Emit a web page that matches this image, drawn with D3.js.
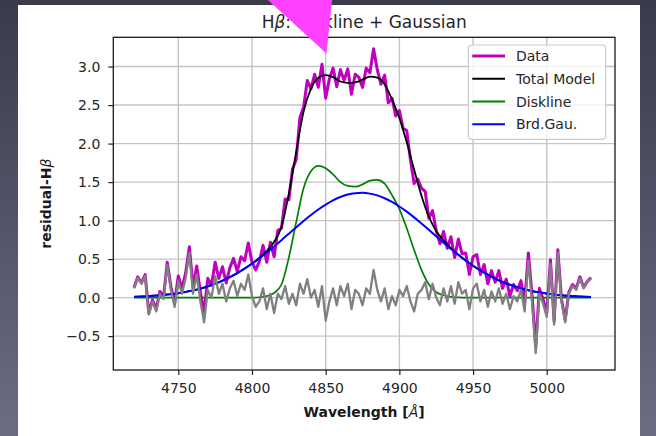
<!DOCTYPE html>
<html>
<head>
<meta charset="utf-8">
<script src="https://cdn.jsdelivr.net/npm/d3@7"></script>
<style>
  html, body { margin: 0; padding: 0; }
  body { width: 656px; height: 436px; overflow: hidden; }
  svg { display: block; font-family: "DejaVu Sans", sans-serif; }
</style>
</head>
<body>
<div id="chart"></div>
<script>
// model curves, sampled every 5 A from 4720 to 5030
var modelStart = 4720, modelStep = 5;
var gaussian = [0.010, 0.014, 0.019, 0.026, 0.034, 0.044, 0.058, 0.074, 0.094, 0.118,
  0.147, 0.181, 0.221, 0.266, 0.318, 0.377, 0.441, 0.510, 0.585, 0.665,
  0.746, 0.830, 0.913, 0.995, 1.072, 1.144, 1.208, 1.263, 1.306, 1.338,
  1.355, 1.360, 1.350, 1.327, 1.290, 1.242, 1.183, 1.116, 1.042, 0.962,
  0.880, 0.796, 0.713, 0.632, 0.555, 0.482, 0.414, 0.352, 0.297, 0.247,
  0.204, 0.167, 0.135, 0.108, 0.085, 0.067, 0.052, 0.040, 0.030, 0.023,
  0.017, 0.012, 0.009];
var diskline = [0, 0, 0, 0, 0, 0, 0, 0, 0, 0,
  0, 0, 0, 0, 0, 0, 0, 0.005, 0.02, 0.06,
  0.17, 0.52, 0.98, 1.42, 1.64, 1.71, 1.68, 1.60, 1.50, 1.45,
  1.44, 1.47, 1.52, 1.53, 1.48, 1.33, 1.15, 0.90, 0.62, 0.36,
  0.17, 0.07, 0.03, 0.01, 0.003, 0, 0, 0, 0, 0,
  0, 0, 0, 0, 0, 0, 0, 0, 0, 0,
  0, 0, 0];
var totalModel = [0.010, 0.014, 0.019, 0.026, 0.034, 0.044, 0.058, 0.074, 0.094, 0.118,
  0.147, 0.181, 0.221, 0.266, 0.318, 0.377, 0.441, 0.515, 0.605, 0.725,
  0.916, 1.350, 1.893, 2.415, 2.712, 2.854, 2.888, 2.863, 2.806, 2.788,
  2.795, 2.830, 2.870, 2.857, 2.770, 2.572, 2.333, 2.016, 1.662, 1.322,
  1.050, 0.866, 0.743, 0.642, 0.558, 0.482, 0.414, 0.352, 0.297, 0.247,
  0.204, 0.167, 0.135, 0.108, 0.085, 0.067, 0.052, 0.040, 0.030, 0.023,
  0.017, 0.012, 0.009];

// observed spectrum and residual, sampled every 2.5 A from 4720 to 5030
var specStart = 4720, specStep = 2.5;
var observed = [0.13, 0.27, 0.19, 0.30, -0.20, -0.03, -0.15, 0.08, 0.01, 0.46,
  0.14, -0.07, 0.28, 0.12, 0.32, 0.66, 0.14, 0.41, 0.07, -0.19,
  0.25, 0.16, 0.46, 0.25, 0.40, 0.19, 0.39, 0.51, 0.34, 0.53,
  0.48, 0.71, 0.46, 0.36, 0.47, 0.68, 0.46, 0.72, 0.53, 0.87,
  0.90, 1.28, 1.27, 1.67, 1.79, 2.34, 2.47, 2.82, 2.71, 2.90,
  2.73, 3.03, 2.59, 2.84, 2.98, 2.74, 2.96, 2.82, 2.97, 2.64,
  2.90, 2.86, 2.73, 2.98, 2.92, 3.23, 2.96, 2.77, 2.89, 2.53,
  2.59, 2.36, 2.43, 2.20, 2.17, 1.79, 1.48, 1.54, 1.42, 1.38,
  1.03, 1.13, 0.87, 0.70, 0.86, 0.64, 0.79, 0.52, 0.76, 0.57,
  0.58, 0.30, 0.53, 0.56, 0.30, 0.43, 0.18, 0.35, 0.20, 0.35,
  0.12, 0.24, 0.02, 0.17, 0.09, 0.22, -0.07, 0.58, 0.04, -0.64,
  0.12, -0.02, -0.20, 0.49, -0.31, 0.62, -0.02, -0.29, 0.07, 0.17,
  0.12, 0.27, 0.13, 0.21, 0.26];
var residual = [0.12, 0.26, 0.18, 0.28, -0.22, -0.05, -0.18, 0.05, -0.02, 0.42,
  0.10, -0.12, 0.22, 0.05, 0.25, 0.58, 0.05, 0.30, -0.05, -0.32,
  0.10, 0.00, 0.28, 0.05, 0.18, -0.05, 0.12, 0.22, 0.02, 0.18,
  0.10, 0.30, 0.02, -0.12, -0.05, 0.12, -0.15, 0.05, -0.20, 0.05,
  -0.02, 0.15, -0.08, 0.05, -0.10, 0.18, 0.05, 0.24, 0.00, 0.10,
  -0.12, 0.15, -0.30, -0.05, 0.12, -0.10, 0.15, 0.02, 0.18, -0.15,
  0.10, 0.05, -0.10, 0.12, 0.05, 0.36, 0.10, -0.05, 0.12, -0.15,
  0.02, -0.10, 0.10, 0.02, 0.15, -0.05, -0.18, 0.05, 0.10, 0.20,
  -0.02, 0.18, 0.00, -0.10, 0.12, -0.05, 0.15, -0.08, 0.20, 0.05,
  0.10, -0.15, 0.12, 0.18, -0.05, 0.10, -0.12, 0.08, -0.05, 0.12,
  -0.08, 0.05, -0.15, 0.02, -0.05, 0.10, -0.18, 0.48, -0.05, -0.72,
  0.05, -0.08, -0.25, 0.44, -0.35, 0.58, -0.05, -0.32, 0.05, 0.15,
  0.10, 0.25, 0.12, 0.20, 0.25];

var xTicks = [4750, 4800, 4850, 4900, 4950, 5000];
var yTicks = [-0.5, 0.0, 0.5, 1.0, 1.5, 2.0, 2.5, 3.0];
var legendLabels = ['Data', 'Total Model', 'Diskline', 'Brd.Gau.'];
var legendColors = ['#bf00bf', '#000000', '#008000', '#0000ff'];

var W = 656, H = 436;
var plotLeft = 113.3, plotRight = 615, plotTop = 37.3, plotBottom = 370;

var svg = d3.select('#chart').append('svg')
  .attr('width', W)
  .attr('height', H);

var defs = svg.append('defs');
var grad = defs.append('linearGradient')
  .attr('id', 'bg').attr('x1', 0).attr('y1', 0).attr('x2', 0).attr('y2', 1);
grad.append('stop').attr('offset', '0%').attr('stop-color', '#393a4a');
grad.append('stop').attr('offset', '100%').attr('stop-color', '#6c6d83');
defs.append('clipPath').attr('id', 'clip')
  .append('rect').attr('x', plotLeft).attr('y', plotTop)
  .attr('width', plotRight - plotLeft).attr('height', plotBottom - plotTop);

svg.append('rect').attr('width', W).attr('height', H).attr('fill', 'url(#bg)');
svg.append('rect').attr('x', 18).attr('y', 5).attr('width', 622).attr('height', H - 5)
  .attr('fill', '#ffffff');

var x = d3.scaleLinear().domain([4705.9, 5046.3]).range([plotLeft, plotRight]);
var y = d3.scaleLinear().domain([-0.94, 3.38]).range([plotBottom, plotTop]);

// grid
var grid = svg.append('g');
grid.selectAll('.vg').data(xTicks).enter().append('line')
  .attr('x1', function(d) { return x(d); }).attr('x2', function(d) { return x(d); })
  .attr('y1', plotTop).attr('y2', plotBottom)
  .attr('stroke', '#c4c4c4').attr('stroke-width', 1.4);
grid.selectAll('.hg').data(yTicks).enter().append('line')
  .attr('y1', function(d) { return y(d); }).attr('y2', function(d) { return y(d); })
  .attr('x1', plotLeft).attr('x2', plotRight)
  .attr('stroke', '#c4c4c4').attr('stroke-width', 1.4);

var modelPts = function(arr) {
  return arr.map(function(v, i) { return [modelStart + i * modelStep, v]; });
};
var specPts = function(arr) {
  return arr.map(function(v, i) { return [specStart + i * specStep, v]; });
};

var smooth = d3.line()
  .x(function(d) { return x(d[0]); })
  .y(function(d) { return y(d[1]); })
  .curve(d3.curveMonotoneX);
var jagged = d3.line()
  .x(function(d) { return x(d[0]); })
  .y(function(d) { return y(d[1]); });

var plot = svg.append('g').attr('clip-path', 'url(#clip)');

plot.append('path').datum(specPts(observed))
  .attr('d', jagged).attr('fill', 'none')
  .attr('stroke', '#bf00bf').attr('stroke-width', 3).attr('stroke-linejoin', 'round');
plot.append('path').datum(modelPts(totalModel))
  .attr('d', smooth).attr('fill', 'none')
  .attr('stroke', '#000000').attr('stroke-width', 1.8);
plot.append('path').datum(modelPts(diskline))
  .attr('d', smooth).attr('fill', 'none')
  .attr('stroke', '#008000').attr('stroke-width', 1.7);
plot.append('path').datum(modelPts(gaussian))
  .attr('d', smooth).attr('fill', 'none')
  .attr('stroke', '#0000ff').attr('stroke-width', 2);
plot.append('path').datum(specPts(residual))
  .attr('d', jagged).attr('fill', 'none')
  .attr('stroke', '#808080').attr('stroke-width', 2.3).attr('stroke-linejoin', 'round');

// axes
var xAxis = svg.append('g')
  .attr('transform', 'translate(0,' + plotBottom + ')')
  .call(d3.axisBottom(x).tickValues(xTicks).tickSize(5).tickPadding(8)
    .tickFormat(d3.format('d')));
var yAxis = svg.append('g')
  .attr('transform', 'translate(' + plotLeft + ',0)')
  .call(d3.axisLeft(y).tickValues(yTicks).tickSize(5).tickPadding(8)
    .tickFormat(d3.format('.1f')));
[xAxis, yAxis].forEach(function(a) {
  a.select('.domain').remove();
  a.selectAll('.tick line').attr('stroke', '#222').attr('stroke-width', 1.2);
  a.selectAll('.tick text').attr('fill', '#262626')
    .style('font-family', '"DejaVu Sans", sans-serif').style('font-size', '14px');
});

svg.append('rect').attr('x', plotLeft).attr('y', plotTop)
  .attr('width', plotRight - plotLeft).attr('height', plotBottom - plotTop)
  .attr('fill', 'none').attr('stroke', '#1a1a1a').attr('stroke-width', 1.3);

// legend
var lg = svg.append('g');
lg.append('rect').attr('x', 468.3).attr('y', 45).attr('width', 137.4).attr('height', 94.3)
  .attr('rx', 3.5).attr('fill', '#ffffff').attr('fill-opacity', 0.8)
  .attr('stroke', '#cccccc').attr('stroke-width', 1.2);
var items = lg.selectAll('.item').data(legendLabels).enter().append('g')
  .attr('transform', function(d, i) { return 'translate(0,' + (56 + i * 22.75) + ')'; });
items.append('line').attr('x1', 472.3).attr('x2', 505)
  .attr('stroke', function(d, i) { return legendColors[i]; })
  .attr('stroke-width', function(d, i) { return i === 0 ? 3 : 2; });
items.append('text').attr('x', 516).attr('dy', '0.36em')
  .attr('fill', '#262626').style('font-size', '14px')
  .text(function(d) { return d; });

// labels
var title = svg.append('text').attr('x', (plotLeft + plotRight) / 2).attr('y', 28)
  .attr('text-anchor', 'middle').attr('fill', '#262626').style('font-size', '17px');
title.append('tspan').text('H');
title.append('tspan').style('font-style', 'italic').text('β');
title.append('tspan').text(': Diskline + Gaussian');

var xl = svg.append('text').attr('x', (plotLeft + plotRight) / 2).attr('y', 417)
  .attr('text-anchor', 'middle').attr('fill', '#1a1a1a')
  .style('font-size', '14px').style('font-weight', 'bold');
xl.append('tspan').text('Wavelength [');
xl.append('tspan').style('font-style', 'italic').style('font-weight', 'normal').text('Å');
xl.append('tspan').text(']');

var yl = svg.append('text')
  .attr('transform', 'translate(51,' + ((plotTop + plotBottom) / 2) + ') rotate(-90)')
  .attr('text-anchor', 'middle').attr('fill', '#1a1a1a')
  .style('font-size', '14px').style('font-weight', 'bold');
yl.append('tspan').text('residual-H');
yl.append('tspan').style('font-style', 'italic').style('font-weight', 'normal').text('β');

// slide annotation arrow
svg.append('path')
  .attr('d', 'M268,0 L332,0 L326.5,53.5 Z')
  .attr('fill', '#ff40ff');
</script>
</body>
</html>
